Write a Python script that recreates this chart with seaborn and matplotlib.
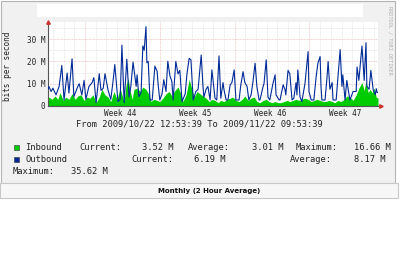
import matplotlib
matplotlib.use("Agg")
import matplotlib.pyplot as plt
from matplotlib.patches import Rectangle
import seaborn as sns
import pandas as pd
import numpy as np

# ---- data (hours since 2009/10/22 12:53:39, values in Mbit/s) ----
out_hours = [0, 2, 7, 11, 18, 25, 31, 36, 43, 47, 54, 58, 67, 70, 76, 81, 85, 92, 99, 103,
             108, 115, 119, 124, 128, 135, 141, 146, 150, 157, 162, 166, 171, 177, 182,
             186, 191, 198, 200, 204, 209, 213, 216, 220, 222, 225, 229, 234, 240, 245,
             247, 251, 256, 260, 265, 269, 274, 278, 281, 287, 292, 296, 301, 308, 312,
             317, 321, 326, 332, 337, 344, 348, 350, 355, 359, 364, 368, 375, 379, 384,
             388, 393, 395, 400, 404, 409, 413, 418, 422, 429, 433, 438, 442, 447, 451,
             456, 460, 465, 469, 474, 476, 483, 485, 490, 494, 498, 505, 510, 512, 519,
             521, 528, 532, 534, 539, 543, 548, 552, 557, 559, 561, 566, 570, 577, 579,
             584, 586, 591, 597, 602, 606, 611, 613, 615, 622, 626, 629, 633, 638, 640,
             647, 651, 656, 660, 662, 667, 671, 674, 678, 685, 692, 694, 698, 703, 705,
             710, 714, 716, 721, 725, 730, 735, 737, 739, 741]
outbound = [7.5, 8.8, 6.5, 8.0, 5.0, 8.8, 18.2, 2.7, 14.8, 5.8, 21.2, 4.2, 8.8, 10.0, 5.0,
            11.5, 3.0, 8.8, 10.5, 12.7, 1.4, 14.5, 7.0, 8.0, 14.5, 7.0, 3.0, 11.0, 18.6,
            2.0, 3.0, 27.3, 1.5, 21.0, 4.0, 8.8, 19.7, 8.8, 14.0, 4.2, 6.0, 27.0, 25.0,
            35.6, 19.4, 20.0, 2.7, 2.7, 17.9, 15.6, 10.3, 2.7, 5.4, 11.8, 6.5, 20.1, 13.3,
            11.2, 2.7, 20.0, 14.4, 16.0, 2.0, 5.4, 14.4, 21.4, 20.7, 2.7, 6.5, 7.5, 22.9,
            8.8, 4.0, 7.5, 8.8, 2.7, 16.2, 3.5, 2.7, 22.5, 3.5, 10.5, 7.5, 2.7, 2.7, 9.5,
            10.5, 16.2, 2.7, 2.7, 9.5, 15.4, 10.5, 8.8, 2.7, 5.0, 10.5, 19.2, 8.8, 2.7,
            2.7, 8.8, 10.0, 20.7, 4.0, 2.7, 10.0, 14.0, 5.0, 2.7, 2.7, 9.5, 7.5, 5.0, 16.0,
            14.4, 2.7, 3.5, 10.5, 5.0, 16.2, 4.0, 2.0, 10.0, 14.0, 24.4, 6.5, 2.7, 2.7,
            13.0, 19.2, 22.2, 8.8, 2.7, 2.7, 11.5, 20.0, 7.5, 10.5, 2.7, 2.7, 13.0, 25.3,
            8.8, 14.0, 2.7, 11.5, 7.5, 2.7, 6.5, 6.5, 17.5, 11.5, 22.2, 26.9, 11.5, 28.4,
            8.8, 7.5, 16.0, 7.5, 5.0, 7.8, 6.0, 6.19]

in_hours = [0, 2, 9, 16, 22, 27, 34, 40, 47, 54, 61, 67, 74, 81, 88, 94, 101, 108, 115, 121,
            128, 135, 141, 148, 155, 162, 166, 171, 175, 180, 184, 189, 193, 200, 207, 213,
            220, 227, 231, 238, 245, 251, 258, 265, 272, 278, 285, 292, 299, 303, 310, 317,
            321, 328, 335, 341, 348, 355, 362, 368, 375, 382, 388, 395, 402, 409, 415, 422,
            429, 436, 442, 449, 456, 463, 469, 476, 483, 490, 496, 503, 510, 516, 523, 530,
            537, 543, 550, 557, 564, 570, 577, 584, 591, 597, 604, 611, 618, 624, 631, 638,
            644, 651, 658, 665, 671, 678, 685, 692, 698, 705, 710, 714, 719, 723, 728, 732,
            737, 741]
inbound = [3.5, 4.0, 3.0, 4.5, 3.0, 6.0, 2.5, 4.0, 3.0, 5.5, 3.0, 4.5, 5.0, 2.5, 4.0, 3.5,
           5.0, 1.5, 4.0, 7.5, 5.0, 4.0, 2.0, 6.5, 3.0, 8.0, 5.0, 2.0, 9.0, 12.5, 7.0, 3.0,
           7.5, 8.0, 6.5, 8.5, 7.5, 5.0, 2.0, 3.0, 2.5, 2.0, 3.5, 5.5, 6.5, 4.5, 7.0, 8.5,
           5.0, 2.0, 5.0, 12.0, 9.0, 4.0, 6.5, 5.5, 4.5, 3.5, 2.0, 3.0, 2.5, 1.5, 2.5, 2.0,
           3.0, 3.5, 4.0, 2.5, 2.0, 3.0, 4.5, 2.5, 3.5, 4.0, 2.0, 1.5, 2.5, 3.0, 2.0, 1.5,
           2.0, 1.5, 1.5, 2.0, 2.5, 2.0, 2.5, 3.0, 2.5, 3.0, 3.5, 3.0, 2.0, 2.5, 3.0, 2.5,
           2.0, 2.0, 2.5, 2.0, 1.5, 2.5, 2.0, 3.0, 4.5, 4.0, 2.5, 5.0, 8.0, 10.5, 7.0, 11.0,
           6.0, 7.5, 6.0, 8.0, 4.0, 3.52]

week_ticks = [163, 331, 499, 667]
week_labels = ["Week 44", "Week 45", "Week 46", "Week 47"]
y_ticks = [0, 10, 20, 30]
y_labels = ["0", "10 M", "20 M", "30 M"]

legend_rows = [
    [("Inbound", 25, "left"), ("Current:", 79, "left"), ("3.52 M", 174, "right"),
     ("Average:", 188, "left"), ("3.01 M", 283, "right"), ("Maximum:", 296, "left"),
     ("16.66 M", 391, "right")],
    [("Outbound", 25, "left"), ("Current:", 131, "left"), ("6.19 M", 226, "right"),
     ("Average:", 290, "left"), ("8.17 M", 385, "right")],
    [("Maximum:", 13, "left"), ("35.62 M", 108, "right")],
]
legend_y = [147, 159, 171]

GREEN = "#00CC00"
BLUE = "#002A97"
MONO = "DejaVu Sans Mono"

sns.set_theme(style="white")
plt.rcParams["font.family"] = ["DejaVu Sans Mono", "DejaVu Sans"]

W, H = 400, 254
fig = plt.figure(figsize=(W / 100, H / 100), dpi=100)
fig.patch.set_facecolor("white")

def fx(px):
    return px / W

def fy(py):
    return 1 - py / H

# outer panel
fig.patches.append(Rectangle((fx(1), fy(183)), fx(395) - fx(1), fy(1) - fy(183),
                             transform=fig.transFigure, facecolor="#f1f1f1",
                             edgecolor="#b4b4b4", linewidth=0.8, zorder=-5))
# strip for the caption
fig.patches.append(Rectangle((fx(0), fy(198)), fx(398), fy(183) - fy(198),
                             transform=fig.transFigure, facecolor="#f7f7f7",
                             edgecolor="#c8c8c8", linewidth=0.8, zorder=-5))
# redacted title box
fig.patches.append(Rectangle((fx(37), fy(17)), fx(363) - fx(37), fy(4) - fy(17),
                             transform=fig.transFigure, facecolor="white",
                             edgecolor="none", zorder=-4))

ax = fig.add_axes([fx(48), fy(106), fx(378) - fx(48), fy(22) - fy(106)])
ax.set_zorder(2)
ax.set_facecolor("white")
ax.set_xlim(0, 741)
ax.set_ylim(0, 37.7)

# grid
for yv in np.arange(5, 37, 5):
    col = "#e8b0b0" if yv % 10 == 0 else "#dcdcdc"
    ax.axhline(yv, color=col, lw=0.5, ls=(0, (1, 1)), zorder=0)
first_midnight = 11.1
for d in range(31):
    xv = first_midnight + 24 * d
    if xv > 741:
        break
    is_week = abs(((xv - first_midnight) / 24) % 7 - 3) < 0.01
    ax.axvline(xv, color="#e8b0b0" if is_week else "#dcdcdc", lw=0.5,
               ls=(0, (1, 1)), zorder=0)

df_in = pd.DataFrame({"hour": in_hours, "bits": inbound})
df_out = pd.DataFrame({"hour": out_hours, "bits": outbound})

ax.fill_between(df_in["hour"], 0, df_in["bits"], color=GREEN, lw=0, zorder=2)
sns.lineplot(data=df_out, x="hour", y="bits", ax=ax, color=BLUE, lw=0.8,
             zorder=3, legend=False)

for s in ["top", "right"]:
    ax.spines[s].set_visible(False)
ax.spines["left"].set_color("#555555")
ax.spines["bottom"].set_color("#555555")
ax.spines["left"].set_linewidth(0.8)
ax.spines["bottom"].set_linewidth(0.8)
ax.plot([0], [1.0], marker="^", color="#cc3333", ms=2.5, transform=ax.transAxes,
        clip_on=False, zorder=5)
ax.plot([1.008], [0], marker=">", color="#cc3333", ms=2.5, transform=ax.transAxes,
        clip_on=False, zorder=5)

ax.set_xticks(week_ticks)
ax.set_xticklabels(week_labels, fontsize=5.5, family=MONO, color="#222222")
ax.set_yticks(y_ticks)
ax.set_yticklabels(y_labels, fontsize=5.5, family=MONO, color="#222222")
ax.tick_params(axis="both", length=0, pad=2)
ax.set_xlabel("")
ax.set_ylabel("")

fig.text(fx(7), fy(66), "bits per second", rotation=90, ha="center", va="center",
         fontsize=5.5, family=MONO, color="#222222")
fig.text(fx(390), fy(40), "RRDTOOL / TOBI OETIKER", rotation=270, ha="center",
         va="center", fontsize=3.8, family=MONO, color="#b0b0b0")
fig.text(fx(199.5), fy(124), "From 2009/10/22 12:53:39 To 2009/11/22 09:53:39",
         ha="center", va="center", fontsize=6.3, family=MONO, color="#222222")

for row, yy in zip(legend_rows, legend_y):
    for txt, xx, ha in row:
        fig.text(fx(xx), fy(yy), txt, ha=ha, va="center", fontsize=6.3,
                 family=MONO, color="#222222")
for col, yy in [(GREEN, 147), (BLUE, 159)]:
    fig.patches.append(Rectangle((fx(13.5), fy(yy + 2.5)), fx(5), fy(0) - fy(5),
                                 transform=fig.transFigure, facecolor=col,
                                 edgecolor="#333333", linewidth=0.4, zorder=3))

fig.text(fx(209), fy(190.5), "Monthly (2 Hour Average)", ha="center", va="center",
         fontsize=5, fontweight="bold", family="DejaVu Sans", color="#111111")

fig.savefig("out.png", dpi=100, facecolor="white")
